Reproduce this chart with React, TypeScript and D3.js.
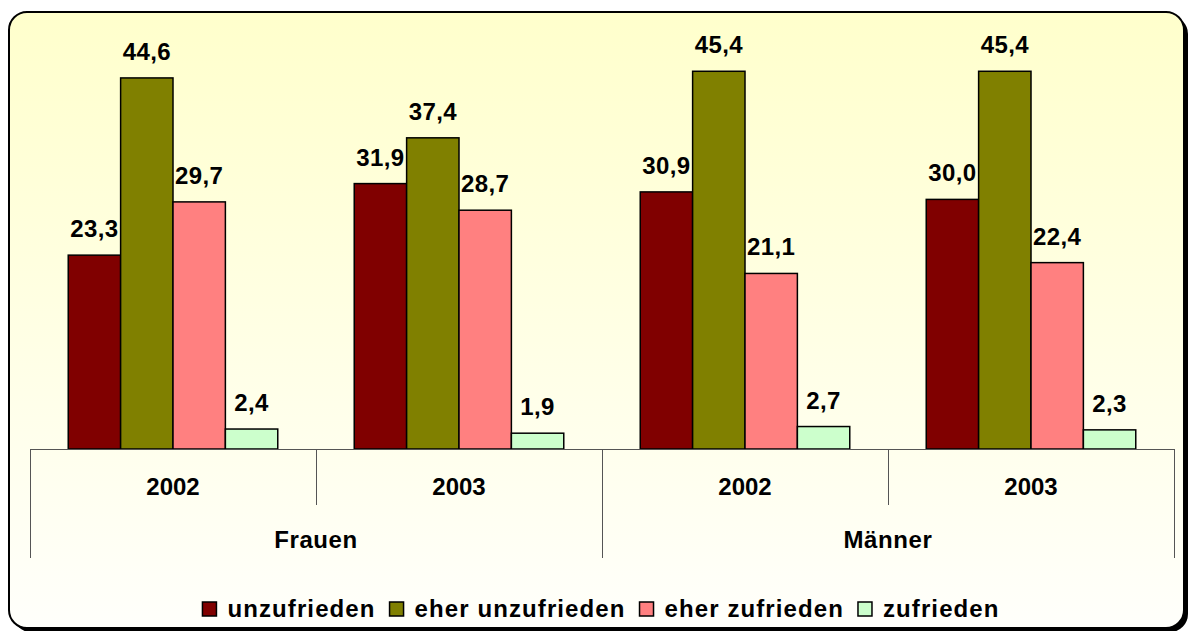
import { useEffect, useRef } from "react";
import * as d3 from "d3";

const groups = ["Frauen", "Männer"];
const years = ["2002", "2003"];
const series = ["unzufrieden", "eher unzufrieden", "eher zufrieden", "zufrieden"];
const colors = ["#800000", "#808000", "#FF8080", "#CCFFCC"];

// values per category (group/year), in series order
const frauen2002 = [23.3, 44.6, 29.7, 2.4];
const frauen2003 = [31.9, 37.4, 28.7, 1.9];
const maenner2002 = [30.9, 45.4, 21.1, 2.7];
const maenner2003 = [30.0, 45.4, 22.4, 2.3];

const W = 1193;
const H = 631;

export default function App() {
  const svgRef = useRef<SVGSVGElement | null>(null);

  useEffect(() => {
    const svgEl = svgRef.current;
    if (!svgEl) return;
    const svg = d3.select(svgEl);
    svg.selectAll("*").remove();

    const font = "'Liberation Sans', Arial, sans-serif";
    const cats = [
      { group: groups[0], year: years[0], values: frauen2002 },
      { group: groups[0], year: years[1], values: frauen2003 },
      { group: groups[1], year: years[0], values: maenner2002 },
      { group: groups[1], year: years[1], values: maenner2003 },
    ];

    const defs = svg.append("defs");
    const grad = defs
      .append("linearGradient")
      .attr("id", "bg")
      .attr("x1", 0)
      .attr("y1", 0)
      .attr("x2", 0)
      .attr("y2", 1);
    grad.append("stop").attr("offset", "0%").attr("stop-color", "#FFFFCC");
    grad.append("stop").attr("offset", "100%").attr("stop-color", "#FFFFFB");

    // frame with shadow
    const fx = 9, fy = 12, fw = 1175, fh = 616;
    svg.append("rect")
      .attr("x", fx + 4).attr("y", fy + 4)
      .attr("width", fw).attr("height", fh)
      .attr("rx", 18).attr("fill", "#000");
    svg.append("rect")
      .attr("x", fx).attr("y", fy)
      .attr("width", fw).attr("height", fh)
      .attr("rx", 18)
      .attr("fill", "url(#bg)")
      .attr("stroke", "#000")
      .attr("stroke-width", 2);

    const left = 30, right = 1174, baseY = 449, topY = 33;
    const x0 = d3.scaleBand<number>().domain(d3.range(cats.length)).range([left, right]).padding(0);
    const x1 = d3.scaleBand<string>().domain(series).range([0, x0.bandwidth()]).paddingInner(0).paddingOuter(0.73);
    const y = d3.scaleLinear().domain([0, 50]).range([baseY, topY]);

    const g = svg.append("g");

    cats.forEach((c, i) => {
      const gx = x0(i)!;
      const cg = g.append("g").attr("transform", `translate(${gx},0)`);
      cg.selectAll("rect")
        .data(c.values)
        .enter()
        .append("rect")
        .attr("x", (_, j) => x1(series[j])!)
        .attr("y", (v) => y(v))
        .attr("width", x1.bandwidth())
        .attr("height", (v) => baseY - y(v))
        .attr("fill", (_, j) => colors[j])
        .attr("stroke", "#000")
        .attr("stroke-width", 1.5);
      cg.selectAll("text")
        .data(c.values)
        .enter()
        .append("text")
        .attr("x", (_, j) => x1(series[j])! + x1.bandwidth() / 2)
        .attr("y", (v) => y(v) - 18)
        .attr("text-anchor", "middle")
        .attr("font-family", font)
        .attr("font-weight", "bold")
        .attr("font-size", 24)
        .attr("letter-spacing", 0.4)
        .text((v) => d3.format(".1f")(v).replace(".", ","));
    });

    // category axis
    const axis = svg.append("g").attr("stroke", "#555").attr("stroke-width", 1);
    axis.append("line").attr("x1", left).attr("x2", right).attr("y1", baseY + 0.5).attr("y2", baseY + 0.5);
    d3.range(cats.length + 1).forEach((i) => {
      const xx = i < cats.length ? x0(i)! : right;
      const long = i % 2 === 0;
      axis.append("line")
        .attr("x1", xx + 0.5).attr("x2", xx + 0.5)
        .attr("y1", baseY).attr("y2", long ? 558 : 505);
    });

    const labels = svg.append("g")
      .attr("font-family", font)
      .attr("font-weight", "bold")
      .attr("font-size", 24)
      .attr("text-anchor", "middle");
    cats.forEach((c, i) => {
      labels.append("text")
        .attr("x", x0(i)! + x0.bandwidth() / 2)
        .attr("y", 495)
        .text(c.year);
    });
    groups.forEach((gName, k) => {
      const a = x0(k * 2)!;
      const b = x0(k * 2 + 1)! + x0.bandwidth();
      labels.append("text")
        .attr("x", (a + b) / 2)
        .attr("y", 548)
        .attr("letter-spacing", 0.6)
        .text(gName);
    });

    // legend
    const leg = svg.append("g");
    const items = series.map((s, j) => {
      const it = leg.append("g");
      it.append("rect")
        .attr("width", 14).attr("height", 14)
        .attr("y", 602)
        .attr("fill", colors[j])
        .attr("stroke", "#000")
        .attr("stroke-width", 1.5);
      const t = it.append("text")
        .attr("x", 25)
        .attr("y", 617)
        .attr("font-family", font)
        .attr("font-weight", "bold")
        .attr("font-size", 24)
        .attr("letter-spacing", 1.1)
        .text(s);
      const w = 25 + (t.node() as SVGTextElement).getComputedTextLength();
      return { it, w };
    });
    const gap = 14;
    const total = d3.sum(items, (d) => d.w) + gap * (items.length - 1);
    let cx = 601 - total / 2;
    items.forEach((d) => {
      d.it.attr("transform", `translate(${cx},0)`);
      cx += d.w + gap;
    });
  }, []);

  return (
    <div style={{ position: "absolute", left: 0, top: 0 }}>
      <svg ref={svgRef} width={W} height={H} style={{ display: "block" }} />
    </div>
  );
}
